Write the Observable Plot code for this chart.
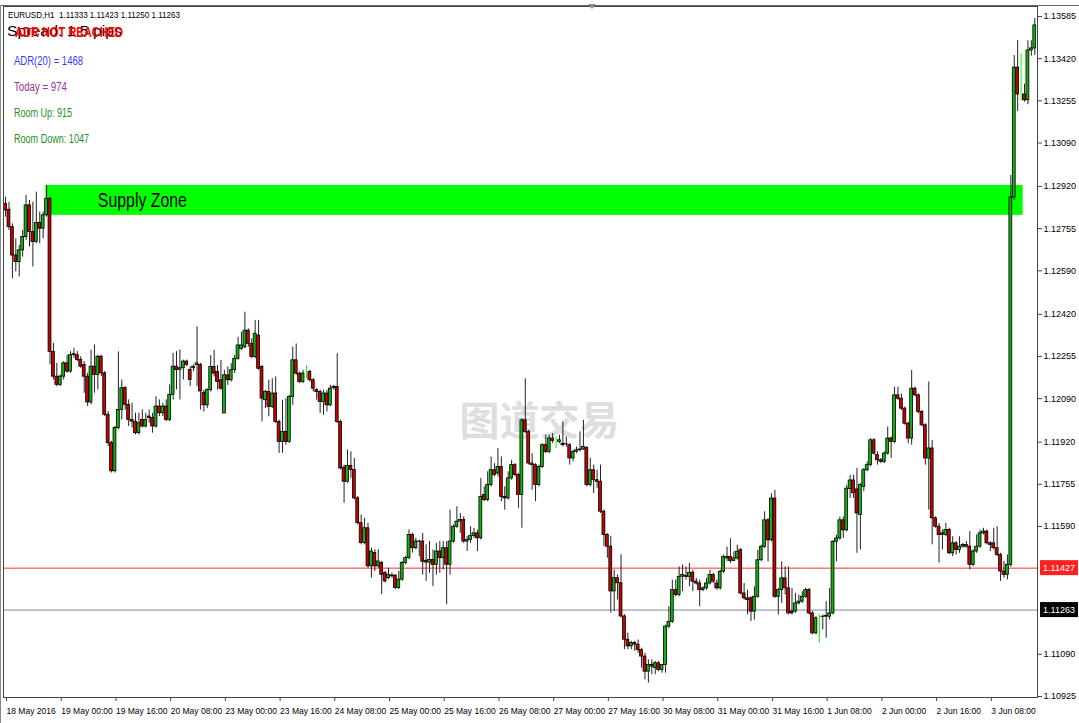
<!DOCTYPE html>
<html><head><meta charset="utf-8">
<script src="https://cdn.jsdelivr.net/npm/d3@7"></script>
<script src="https://cdn.jsdelivr.net/npm/@observablehq/plot@0.6"></script>
<style>
html,body{margin:0;padding:0;background:#fff;}
#wrap{position:relative;width:1079px;height:723px;overflow:hidden;}
#wrap svg{display:block;}
</style></head><body><div id="wrap"></div>
<script>
// EURUSD H1 candles, 18 May 2016 08:00 .. 3 Jun 2016 — [open, high, low, close]
const candles = [
[1.12852,1.12878,1.12800,1.12826],[1.12829,1.12858,1.12748,1.12761],[1.12761,1.12774,1.12559,1.12650],[1.12650,1.12715,1.12586,1.12624],
[1.12624,1.12690,1.12566,1.12670],[1.12670,1.12748,1.12644,1.12722],[1.12722,1.12885,1.12709,1.12846],[1.12846,1.12865,1.12683,1.12742],
[1.12742,1.12858,1.12605,1.12703],[1.12703,1.12898,1.12696,1.12777],[1.12777,1.12820,1.12696,1.12755],[1.12755,1.12820,1.12715,1.12807],
[1.12807,1.12924,1.12800,1.12872],[1.12872,1.12878,1.12222,1.12273],[1.12273,1.12306,1.12163,1.12176],[1.12176,1.12228,1.12137,1.12144],
[1.12144,1.12183,1.12137,1.12176],[1.12176,1.12235,1.12163,1.12228],[1.12228,1.12260,1.12189,1.12196],[1.12196,1.12274,1.12189,1.12260],
[1.12260,1.12287,1.12248,1.12264],[1.12260,1.12274,1.12235,1.12241],[1.12241,1.12254,1.12209,1.12215],[1.12222,1.12235,1.12111,1.12176],
[1.12176,1.12189,1.12059,1.12075],[1.12075,1.12280,1.12066,1.12215],[1.12215,1.12300,1.12111,1.12183],[1.12183,1.12260,1.12124,1.12254],
[1.12254,1.12260,1.12176,1.12189],[1.12189,1.12196,1.12020,1.12027],[1.12027,1.12040,1.11903,1.11916],[1.11916,1.11923,1.11799,1.11806],
[1.11806,1.11981,1.11799,1.11975],[1.11975,1.12273,1.11968,1.12046],[1.12046,1.12163,1.12007,1.12131],[1.12131,1.12137,1.12046,1.12066],
[1.12066,1.12085,1.11981,1.12007],[1.12007,1.12072,1.11975,1.12000],[1.12000,1.12033,1.11948,1.11955],[1.11955,1.12033,1.11948,1.11994],
[1.12007,1.12046,1.11975,1.11981],[1.11981,1.12033,1.11975,1.12007],[1.12020,1.12046,1.11994,1.12014],[1.12014,1.12033,1.11955,1.11981],
[1.11981,1.12098,1.11975,1.12059],[1.12059,1.12085,1.12020,1.12033],[1.12033,1.12072,1.12020,1.12059],[1.12059,1.12085,1.12000,1.12007],
[1.12007,1.12144,1.12000,1.12105],[1.12105,1.12267,1.12085,1.12215],[1.12215,1.12274,1.12124,1.12202],[1.12202,1.12280,1.12085,1.12209],
[1.12209,1.12241,1.12163,1.12235],[1.12235,1.12241,1.12215,1.12222],[1.12202,1.12215,1.12137,1.12163],[1.12209,1.12222,1.12196,1.12215],
[1.12222,1.12371,1.12137,1.12228],[1.12222,1.12228,1.12046,1.12118],[1.12113,1.12123,1.12038,1.12064],[1.12064,1.12129,1.12051,1.12123],
[1.12123,1.12259,1.12116,1.12214],[1.12214,1.12279,1.12175,1.12188],[1.12194,1.12220,1.12123,1.12155],[1.12162,1.12240,1.12123,1.12129],
[1.12032,1.12201,1.12032,1.12181],[1.12181,1.12214,1.12142,1.12162],[1.12162,1.12227,1.12155,1.12201],[1.12201,1.12259,1.12188,1.12246],
[1.12246,1.12330,1.12240,1.12298],[1.12285,1.12350,1.12279,1.12298],[1.12291,1.12428,1.12285,1.12356],[1.12356,1.12363,1.12291,1.12304],
[1.12304,1.12324,1.12246,1.12253],[1.12253,1.12396,1.12246,1.12344],[1.12337,1.12396,1.12201,1.12207],[1.12214,1.12220,1.11999,1.12090],
[1.12084,1.12123,1.12051,1.12116],[1.12116,1.12162,1.12019,1.12058],[1.12058,1.12168,1.12051,1.12110],[1.12110,1.12175,1.11993,1.11999],
[1.11999,1.12006,1.11876,1.11921],[1.11921,1.12084,1.11876,1.11960],[1.11960,1.12090,1.11908,1.11921],[1.11921,1.12103,1.11915,1.12097],
[1.12097,1.12292,1.12064,1.12240],[1.12240,1.12304,1.12181,1.12188],[1.12188,1.12194,1.12149,1.12155],[1.12155,1.12201,1.12149,1.12188],
[1.12190,1.12220,1.12168,1.12190],[1.12194,1.12201,1.12155,1.12162],[1.12162,1.12168,1.12116,1.12129],[1.12123,1.12129,1.12084,1.12116],
[1.12116,1.12123,1.12032,1.12077],[1.12077,1.12123,1.12025,1.12110],[1.12110,1.12123,1.12038,1.12064],[1.12064,1.12142,1.12058,1.12129],
[1.12132,1.12142,1.12123,1.12136],[1.12136,1.12266,1.11993,1.11999],[1.11999,1.12006,1.11811,1.11817],[1.11820,1.11830,1.11681,1.11765],
[1.11765,1.11889,1.11759,1.11827],[1.11827,1.11882,1.11778,1.11811],[1.11811,1.11856,1.11694,1.11700],[1.11700,1.11707,1.11596,1.11603],
[1.11603,1.11635,1.11518,1.11525],[1.11525,1.11622,1.11518,1.11583],[1.11583,1.11603,1.11427,1.11434],[1.11434,1.11505,1.11388,1.11492],
[1.11486,1.11499,1.11414,1.11434],[1.11434,1.11499,1.11427,1.11453],[1.11447,1.11453,1.11323,1.11401],[1.11408,1.11414,1.11369,1.11375],
[1.11388,1.11427,1.11382,1.11401],[1.11395,1.11408,1.11388,1.11398],[1.11398,1.11401,1.11343,1.11349],[1.11349,1.11414,1.11343,1.11382],
[1.11382,1.11453,1.11375,1.11447],[1.11447,1.11473,1.11440,1.11466],[1.11466,1.11577,1.11460,1.11557],[1.11557,1.11564,1.11486,1.11505],
[1.11505,1.11544,1.11499,1.11531],[1.11531,1.11537,1.11472,1.11530],[1.11531,1.11563,1.11400,1.11452],[1.11456,1.11518,1.11375,1.11449],
[1.11449,1.11531,1.11407,1.11459],[1.11459,1.11498,1.11355,1.11440],[1.11440,1.11524,1.11400,1.11492],[1.11492,1.11531,1.11407,1.11466],
[1.11466,1.11531,1.11420,1.11505],[1.11505,1.11531,1.11284,1.11440],[1.11440,1.11654,1.11400,1.11531],[1.11531,1.11596,1.11524,1.11589],
[1.11589,1.11667,1.11583,1.11609],[1.11609,1.11641,1.11563,1.11615],[1.11615,1.11628,1.11524,1.11531],[1.11531,1.11550,1.11492,1.11537],
[1.11537,1.11589,1.11524,1.11553],[1.11553,1.11583,1.11544,1.11563],[1.11563,1.11576,1.11492,1.11544],[1.11544,1.11778,1.11537,1.11706],
[1.11713,1.11745,1.11687,1.11693],[1.11693,1.11804,1.11687,1.11752],[1.11752,1.11862,1.11745,1.11810],[1.11810,1.11836,1.11784,1.11791],
[1.11797,1.11895,1.11784,1.11823],[1.11823,1.11862,1.11687,1.11706],[1.11706,1.11745,1.11654,1.11700],[1.11700,1.11804,1.11693,1.11778],
[1.11778,1.11849,1.11771,1.11830],[1.11830,1.11836,1.11784,1.11791],[1.11791,1.11797,1.11661,1.11713],[1.11713,1.12012,1.11583,1.12005],
[1.12005,1.12168,1.11953,1.11960],[1.11960,1.11966,1.11830,1.11836],[1.11836,1.11875,1.11732,1.11830],[1.11830,1.11836,1.11687,1.11752],
[1.11752,1.11830,1.11745,1.11823],[1.11823,1.11914,1.11817,1.11908],[1.11908,1.11947,1.11875,1.11882],[1.11882,1.11947,1.11875,1.11934],
[1.11934,1.11953,1.11914,1.11924],[1.11921,1.11940,1.11895,1.11921],[1.11921,1.11947,1.11914,1.11927],[1.11914,1.11999,1.11901,1.11908],
[1.11911,1.11940,1.11901,1.11912],[1.11908,1.11914,1.11830,1.11856],[1.11856,1.11888,1.11843,1.11882],[1.11882,1.11901,1.11875,1.11888],
[1.11888,1.11960,1.11882,1.11891],[1.11891,1.12005,1.11888,1.11901],[1.11898,1.11901,1.11745,1.11752],[1.11752,1.11856,1.11745,1.11810],
[1.11810,1.11830,1.11719,1.11771],[1.11771,1.11810,1.11739,1.11765],[1.11765,1.11830,1.11641,1.11648],[1.11648,1.11654,1.11511,1.11557],
[1.11557,1.11563,1.11466,1.11511],[1.11511,1.11550,1.11251,1.11336],[1.11336,1.11420,1.11258,1.11388],[1.11388,1.11401,1.11303,1.11368],
[1.11368,1.11479,1.11232,1.11238],[1.11238,1.11245,1.11108,1.11147],[1.11147,1.11173,1.11108,1.11121],[1.11121,1.11141,1.11108,1.11134],
[1.11134,1.11141,1.11102,1.11128],[1.11128,1.11146,1.11094,1.11107],[1.11107,1.11114,1.11036,1.11081],[1.11081,1.11094,1.10990,1.11022],
[1.11022,1.11068,1.10977,1.11048],[1.11048,1.11068,1.11010,1.11042],[1.11036,1.11062,1.11010,1.11055],[1.11055,1.11062,1.11022,1.11029],
[1.11029,1.11048,1.11016,1.11048],[1.11048,1.11204,1.11016,1.11198],[1.11198,1.11276,1.11190,1.11217],[1.11217,1.11380,1.11211,1.11341],
[1.11341,1.11380,1.11315,1.11322],[1.11322,1.11432,1.11315,1.11393],[1.11393,1.11439,1.11335,1.11400],[1.11393,1.11432,1.11380,1.11396],
[1.11393,1.11445,1.11354,1.11409],[1.11409,1.11419,1.11335,1.11374],[1.11374,1.11387,1.11361,1.11367],[1.11367,1.11380,1.11276,1.11341],
[1.11341,1.11354,1.11335,1.11348],[1.11348,1.11387,1.11341,1.11367],[1.11367,1.11419,1.11361,1.11400],[1.11400,1.11406,1.11367,1.11374],
[1.11367,1.11380,1.11341,1.11348],[1.11348,1.11419,1.11341,1.11413],[1.11413,1.11478,1.11406,1.11471],[1.11465,1.11510,1.11452,1.11471],
[1.11471,1.11542,1.11445,1.11455],[1.11455,1.11491,1.11452,1.11465],[1.11465,1.11517,1.11458,1.11491],[1.11497,1.11504,1.11322,1.11328],
[1.11328,1.11367,1.11302,1.11309],[1.11309,1.11341,1.11244,1.11302],[1.11309,1.11315,1.11218,1.11257],[1.11257,1.11354,1.11224,1.11315],
[1.11315,1.11497,1.11309,1.11458],[1.11458,1.11517,1.11452,1.11510],[1.11510,1.11647,1.11504,1.11614],[1.11614,1.11621,1.11452,1.11536],
[1.11536,1.11718,1.11530,1.11699],[1.11699,1.11731,1.11309,1.11315],[1.11315,1.11348,1.11244,1.11341],[1.11341,1.11452,1.11289,1.11387],
[1.11387,1.11432,1.11322,1.11348],[1.11348,1.11432,1.11244,1.11250],[1.11257,1.11348,1.11244,1.11250],[1.11257,1.11328,1.11250,1.11289],
[1.11289,1.11322,1.11283,1.11296],[1.11296,1.11335,1.11289,1.11315],[1.11315,1.11348,1.11309,1.11341],[1.11341,1.11348,1.11244,1.11250],
[1.11250,1.11257,1.11166,1.11172],[1.11172,1.11237,1.11166,1.11231],[1.11237,1.11244,1.11133,1.11237],[1.11237,1.11244,1.11185,1.11236],
[1.11237,1.11296,1.11153,1.11240],[1.11237,1.11348,1.11224,1.11250],[1.11250,1.11535,1.11244,1.11530],[1.11530,1.11556,1.11452,1.11543],
[1.11543,1.11627,1.11536,1.11614],[1.11614,1.11627,1.11543,1.11575],[1.11575,1.11751,1.11569,1.11738],[1.11737,1.11790,1.11700,1.11770],
[1.11770,1.11790,1.11700,1.11720],[1.11735,1.11817,1.11485,1.11641],[1.11635,1.11758,1.11498,1.11752],[1.11745,1.11817,1.11726,1.11810],
[1.11810,1.11843,1.11804,1.11830],[1.11830,1.11934,1.11823,1.11927],[1.11927,1.11934,1.11869,1.11875],[1.11869,1.11882,1.11830,1.11849],
[1.11849,1.11856,1.11836,1.11843],[1.11843,1.11882,1.11836,1.11875],[1.11875,1.11979,1.11869,1.11934],[1.11934,1.11940,1.11856,1.11921],
[1.11921,1.12135,1.11914,1.12103],[1.12103,1.12135,1.12083,1.12090],[1.12090,1.12109,1.12044,1.12051],[1.12051,1.12057,1.11986,1.11992],
[1.11992,1.11999,1.11914,1.11934],[1.11934,1.12200,1.11908,1.12129],[1.12129,1.12135,1.12096,1.12103],[1.12103,1.12109,1.12031,1.12038],
[1.12038,1.12044,1.11979,1.11986],[1.11986,1.11992,1.11830,1.11856],[1.11856,1.12155,1.11654,1.11895],[1.11895,1.11927,1.11518,1.11622],
[1.11622,1.11628,1.11583,1.11589],[1.11589,1.11602,1.11446,1.11557],[1.11563,1.11576,1.11498,1.11557],[1.11557,1.11602,1.11550,1.11576],
[1.11576,1.11583,1.11480,1.11485],[1.11485,1.11550,1.11472,1.11524],[1.11524,1.11531,1.11478,1.11498],[1.11498,1.11550,1.11485,1.11511],
[1.11511,1.11524,1.11505,1.11518],[1.11518,1.11531,1.11505,1.11511],[1.11511,1.11570,1.11420,1.11440],[1.11440,1.11498,1.11433,1.11492],
[1.11492,1.11557,1.11485,1.11511],[1.11511,1.11576,1.11505,1.11563],[1.11563,1.11583,1.11557,1.11570],[1.11570,1.11576,1.11518,1.11524],
[1.11524,1.11531,1.11492,1.11518],[1.11524,1.11583,1.11498,1.11505],[1.11505,1.11589,1.11472,1.11479],[1.11479,1.11485,1.11375,1.11414],
[1.11414,1.11453,1.11388,1.11401],[1.11401,1.11479,1.11381,1.11440],[1.11440,1.12963,1.11430,1.12877],[1.12877,1.13432,1.12865,1.13385],
[1.13385,1.13491,1.13213,1.13280],[1.13300,1.13440,1.13255,1.13300],[1.13280,1.13320,1.13250,1.13257],[1.13257,1.13490,1.13240,1.13452],
[1.13452,1.13490,1.13430,1.13460],[1.13460,1.13577,1.13432,1.13550]
];

// right price axis
const priceTicks = [1.13585,1.13420,1.13255,1.13090,1.12920,1.12755,1.12590,1.12420,1.12255,1.12090,1.11920,1.11755,1.11590,1.11090,1.10925];
// time axis (bar index of each label, label text)
const timeTickBars = [0,16,32,48,64,80,96,112,128,144,160,176,192,208,224,240,256,272,288];
const timeTickLabels = ["18 May 2016","19 May 00:00","19 May 16:00","20 May 08:00","23 May 00:00","23 May 16:00","24 May 08:00","25 May 00:00","25 May 16:00","26 May 08:00","27 May 00:00","27 May 16:00","30 May 08:00","31 May 00:00","31 May 16:00","1 Jun 08:00","2 Jun 00:00","2 Jun 16:00","3 Jun 08:00"];
// horizontal price lines
const askLine = [1.11427];
const bidLine = [1.11263];
// supply zone (bar range, price range)
const zoneBars = [11.8, 297.6];
const zonePrices = [1.12807, 1.12924];
const zoneLabel = ["Supply Zone"];
const watermark = ["图道交易"];
// info panel
const headerText = "EURUSD,H1  1.11333 1.11423 1.11250 1.11263";
const spreadText = "Spread: 1.5 pips";
const adrStatus = "ADR NOT REACHED";
const infoLines = [
  {text: "ADR(20) = 1468", color: "#3a3aff"},
  {text: "Today = 974", color: "#993399"},
  {text: "Room Up: 915", color: "#1f8f1f"},
  {text: "Room Down: 1047", color: "#1f8f1f"}
];

const bars = candles.map(([o,h,l,c], i) => ({i, o, h, l, c}));
const labelMap = new Map(timeTickBars.map((b, k) => [b, timeTickLabels[k]]));
const UP = "#0fb40f", DOWN = "#c80000";

const chart = Plot.plot({
  width: 1079, height: 723,
  marginLeft: 3, marginRight: 42, marginTop: 6, marginBottom: 26,
  style: {background: "#fff", fontFamily: "Liberation Sans, Arial, sans-serif", color: "#000"},
  x: {domain: [-0.6, 301.8], axis: null},
  y: {domain: [1.10921, 1.13624], axis: null},
  color: {type: "identity"},
  marks: [
    Plot.text(watermark, {frameAnchor: "middle", dx: 19, dy: 70, fontSize: 40, fontWeight: "bold",
      fill: "#dedede", fontFamily: "Noto Sans CJK SC"}),
    Plot.rect([0], {x1: () => zoneBars[0], x2: () => zoneBars[1], y1: () => zonePrices[0], y2: () => zonePrices[1], fill: "#00ff00"}),
    Plot.text(zoneLabel, {x: 27, y: () => (zonePrices[0] + zonePrices[1]) / 2, textAnchor: "start", fontSize: 21,
      fill: "#000", className: "zonelabel"}),
    Plot.ruleY(askLine, {stroke: "#ff3030", strokeWidth: 1}),
    Plot.ruleY(bidLine, {stroke: "#7a8a9a", strokeWidth: 1}),
    Plot.ruleX(bars, {x: "i", y1: "l", y2: "h", stroke: d => d.o === d.c ? "#00ff00" : "#222", strokeWidth: 1}),
    Plot.rect(bars.filter(d => d.o !== d.c), {x1: d => d.i - 0.42, x2: d => d.i + 0.42, y1: "o", y2: "c",
      fill: d => d.c > d.o ? UP : DOWN, stroke: "#000", strokeWidth: 0.8}),
    Plot.frame({stroke: "#444"}),
    Plot.axisY(priceTicks, {anchor: "right", tickSize: 4, tickPadding: 2, tickFormat: d => d.toFixed(5),
      fontSize: 9, label: null, stroke: "#444"}),
    Plot.axisX(timeTickBars, {anchor: "bottom", tickSize: 4, tickPadding: 6, tickFormat: d => labelMap.get(d),
      textAnchor: "start", dx: 1, fontSize: 8.5, label: null, stroke: "#444"})
  ]
});
document.getElementById("wrap").appendChild(chart);

const svg = d3.select(chart);
svg.selectAll(".zonelabel text").attr("textLength", 89).attr("lengthAdjust", "spacingAndGlyphs");

const y = chart.scale("y");
// price boxes on the right axis
[[askLine[0], "#ff2020"], [bidLine[0], "#000"]].forEach(([p, col]) => {
  const py = y.apply(p);
  svg.append("rect").attr("x", 1040).attr("y", py - 7.5).attr("width", 38).attr("height", 15).attr("fill", col);
  svg.append("text").attr("x", 1059).attr("y", py + 3.2).attr("text-anchor", "middle")
    .attr("font-size", 9).attr("fill", "#fff").attr("font-family", "Liberation Sans, Arial, sans-serif").text(p.toFixed(5));
});
// window borders
svg.append("line").attr("x1", 0).attr("x2", 1079).attr("y1", 5.5).attr("y2", 5.5).attr("stroke", "#666");
svg.append("line").attr("x1", 0.5).attr("x2", 0.5).attr("y1", 5).attr("y2", 723).attr("stroke", "#888");
svg.append("path").attr("d", "M588,4 L596,4 L592,9 Z").attr("fill", "#888");

// info panel texts
const g = svg.append("g").attr("font-family", "Liberation Sans, Arial, sans-serif").attr("text-anchor", "start");
g.append("text").attr("x", 8).attr("y", 18).attr("font-size", 9).attr("fill", "#000")
  .attr("textLength", 172).attr("lengthAdjust", "spacingAndGlyphs").text(headerText);
g.append("text").attr("x", 7).attr("y", 36).attr("font-size", 14).attr("fill", "#000")
  .attr("textLength", 115).attr("lengthAdjust", "spacingAndGlyphs").text(spreadText);
g.append("text").attr("x", 15).attr("y", 37).attr("font-size", 15).attr("font-weight", "bold").attr("fill", "#ff0000")
  .attr("textLength", 108).attr("lengthAdjust", "spacingAndGlyphs").text(adrStatus);
const widths = [69, 53, 58, 75];
infoLines.forEach((l, k) => {
  g.append("text").attr("x", 14).attr("y", 65 + 26 * k).attr("font-size", 12).attr("fill", l.color)
    .attr("textLength", widths[k]).attr("lengthAdjust", "spacingAndGlyphs").text(l.text);
});
</script></body></html>
